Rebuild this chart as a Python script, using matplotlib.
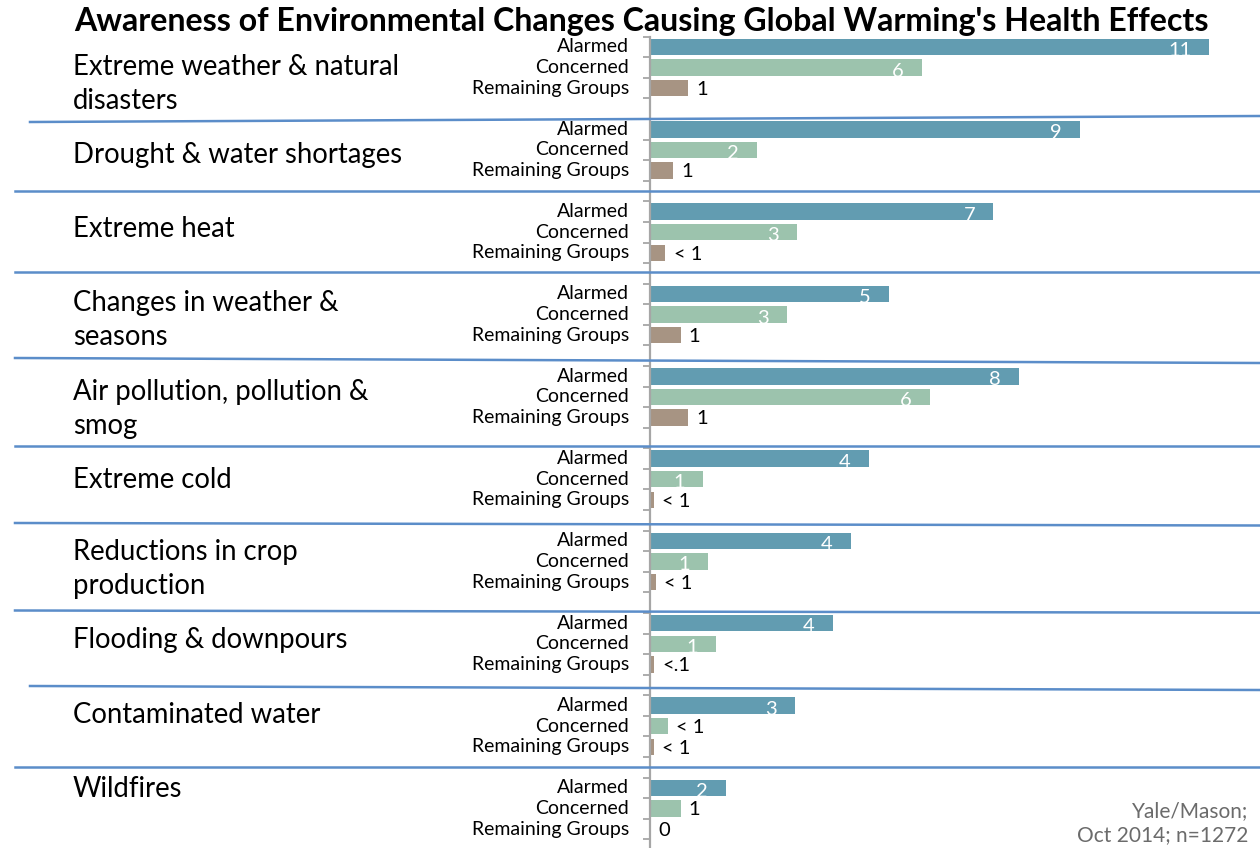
import numpy as np
import matplotlib
matplotlib.use("Agg")
import matplotlib.pyplot as plt
from matplotlib.lines import Line2D

plt.rcParams['font.family'] = ['Lato', 'DejaVu Sans']

W, H = 1260, 848

categories = ["Extreme weather & natural\ndisasters", "Drought & water shortages",
              "Extreme heat", "Changes in weather &\nseasons",
              "Air pollution, pollution &\nsmog", "Extreme cold",
              "Reductions in crop\nproduction", "Flooding & downpours",
              "Contaminated water", "Wildfires"]
series = ["Alarmed", "Concerned", "Remaining Groups"]

alarmed = [11.0, 8.45, 6.75, 4.7, 7.25, 4.3, 3.95, 3.6, 2.85, 1.5]
concerned = [5.35, 2.1, 2.9, 2.7, 5.5, 1.05, 1.15, 1.3, 0.35, 0.6]
remaining = [0.75, 0.45, 0.3, 0.6, 0.75, 0.08, 0.12, 0.08, 0.08, 0.0]

alarmed_labels = ["11", "9", "7", "5", "8", "4", "4", "4", "3", "2"]
concerned_labels = ["6", "2", "3", "3", "6", "1", "1", "1", "< 1", "1"]
remaining_labels = ["1", "1", "< 1", "1", "1", "< 1", "< 1", "<.1", "< 1", "0"]

colors = ["#629CB1", "#9CC3AD", "#A79483"]

# layout, in pixels of the 1260x848 picture
cat_label_y = [84, 155, 229, 320, 409, 480, 569, 640, 715, 789]
separators = [(30, 122, 1260, 116), (15, 190.5, 1260, 190.5),
              (15, 271.5, 1260, 271.5), (15, 358, 1260, 363),
              (15, 446.5, 1260, 446.5), (15, 523, 1260, 525.5),
              (15, 610.5, 1260, 612.7), (30, 686, 1260, 690),
              (15, 767, 1260, 767)]


def fx(x):
    return x / W


def fy(y):
    return 1 - y / H


fig = plt.figure(figsize=(W / 100, H / 100), dpi=100)
ax = fig.add_axes([fx(650), 0, fx(1260) - fx(650), fy(36.7)])

n = len(categories)
for s, (vals, labs) in enumerate(zip([alarmed, concerned, remaining],
                                     [alarmed_labels, concerned_labels, remaining_labels])):
    ys = 4 * np.arange(n) + s
    ax.barh(ys, vals, height=0.8, color=colors[s], zorder=2)
    for y, v, lab in zip(ys, vals, labs):
        if v >= 1.0:
            ax.annotate(lab, (v, y), xytext=(-13, -2.5), textcoords="offset points",
                        ha="right", va="center", color="white", fontsize=14.5)
        else:
            ax.annotate(lab, (v, y), xytext=(6, -1), textcoords="offset points",
                        ha="left", va="center", color="black", fontsize=14.5)
        ax.text(-21 / 610, y, series[s], transform=ax.get_yaxis_transform(),
                ha="right", va="center", fontsize=14, color="black")

ax.set_xlim(0, 12)
ax.set_ylim(38.92, -0.5)
ax.set_yticks(np.arange(-0.5, 39, 1))
ax.set_yticklabels([])
ax.set_xticks([])
ax.tick_params(axis="y", direction="out", length=5, width=1.3, color="#A6A6A6")
for side in ["top", "right", "bottom"]:
    ax.spines[side].set_visible(False)
ax.spines["left"].set_color("#A6A6A6")
ax.spines["left"].set_linewidth(1.6)

for label, y in zip(categories, cat_label_y):
    fig.text(fx(73), fy(y), label, ha="left", va="center", fontsize=19.8,
             linespacing=1.4)

for x0, y0, x1, y1 in separators:
    fig.add_artist(Line2D([fx(x0), fx(x1)], [fy(y0), fy(y1)],
                          transform=fig.transFigure, color="#5B8DC9", lw=1.8))

fig.text(fx(641), fy(22), "Awareness of Environmental Changes Causing Global Warming's Health Effects",
         ha="center", va="center", fontsize=23.1, fontweight="bold")
fig.text(fx(1248), fy(811), "Yale/Mason;", ha="right", va="center", fontsize=15, color="#6B6B6B")
fig.text(fx(1248), fy(835), "Oct 2014; n=1272", ha="right", va="center", fontsize=15, color="#6B6B6B")

fig.savefig("out.png", dpi=100)
